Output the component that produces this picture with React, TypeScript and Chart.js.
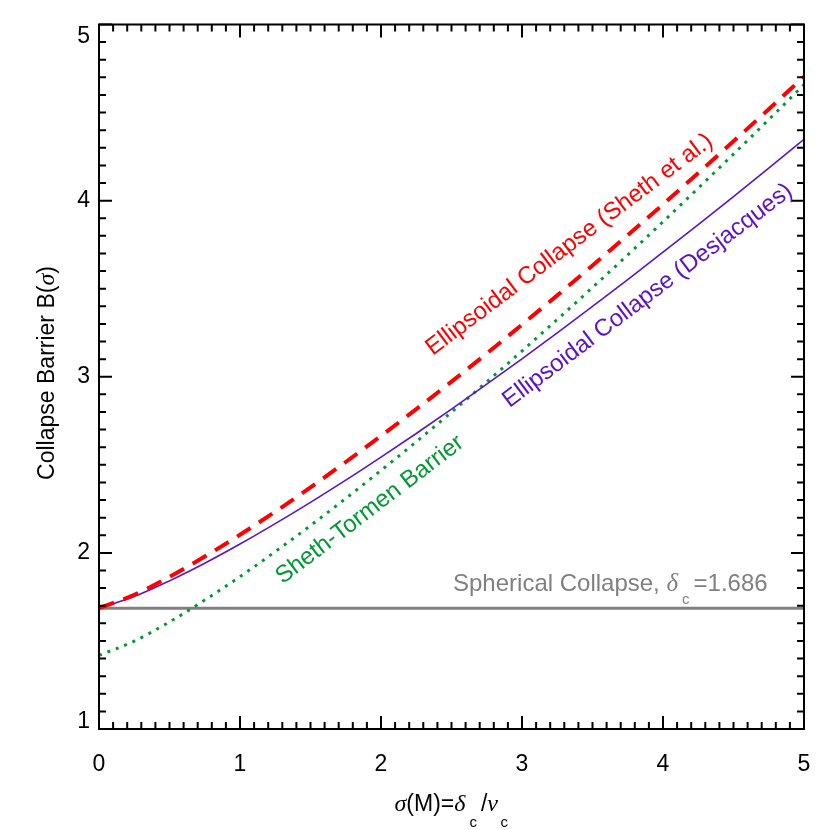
import React, { useEffect, useRef } from "react";
import { Chart, registerables } from "chart.js";
Chart.register(...registerables);

// sigma(M) sample points
const sigma = [0, 0.25, 0.5, 0.75, 1, 1.25, 1.5, 1.75, 2, 2.25, 2.5, 2.75, 3, 3.25, 3.5, 3.75, 4, 4.25, 4.5, 4.75, 5];
// Ellipsoidal collapse (Sheth et al.)
const shethEllipsoidal = [1.686, 1.762, 1.864, 1.979, 2.103, 2.234, 2.372, 2.516, 2.664, 2.816, 2.972, 3.132, 3.296, 3.462, 3.632, 3.804, 3.979, 4.157, 4.337, 4.519, 4.704];
// Sheth-Tormen barrier
const shethTormen = [1.418, 1.499, 1.608, 1.732, 1.865, 2.007, 2.155, 2.309, 2.468, 2.631, 2.799, 2.971, 3.146, 3.325, 3.507, 3.692, 3.880, 4.071, 4.264, 4.460, 4.658];
// Ellipsoidal collapse (Desjacques)
const desjacques = [1.686, 1.752, 1.841, 1.941, 2.050, 2.166, 2.287, 2.413, 2.544, 2.678, 2.816, 2.958, 3.102, 3.249, 3.399, 3.552, 3.707, 3.864, 4.023, 4.185, 4.348];
// Spherical collapse
const deltaC = 1.686;
const sphericalSigma = [0, 5];

const xTickLabels = ["0", "1", "2", "3", "4", "5"];
const yTickLabels = ["1", "2", "3", "4", "5"];

const RED = "#ff0000";
const GREEN = "#009933";
const PURPLE = "#5a14c8";
const GRAY = "#808080";

const SANS = "'Liberation Sans', Arial, Helvetica, sans-serif";
const SERIF = "'Liberation Serif', 'Times New Roman', serif";

type Run = { t: string; font: string; dy?: number; pad?: number };

function runsWidth(ctx: CanvasRenderingContext2D, runs: Run[]) {
  let w = 0;
  for (const r of runs) {
    ctx.font = r.font;
    w += ctx.measureText(r.t).width + (r.pad || 0);
  }
  return w;
}

function drawRuns(ctx: CanvasRenderingContext2D, runs: Run[], x: number, y: number, align: "left" | "center") {
  const w = runsWidth(ctx, runs);
  let cx = align === "center" ? x - w / 2 : x;
  ctx.textAlign = "left";
  for (const r of runs) {
    ctx.font = r.font;
    cx += (r.pad || 0) / 2;
    ctx.fillText(r.t, cx, y + (r.dy || 0));
    cx += ctx.measureText(r.t).width + (r.pad || 0) / 2;
  }
}

const decor = {
  id: "decor",
  afterDraw(chart: any) {
    const ctx: CanvasRenderingContext2D = chart.ctx;
    const xs = chart.scales.x;
    const ys = chart.scales.y;
    const { left, right, top, bottom } = chart.chartArea;
    ctx.save();

    // frame
    ctx.strokeStyle = "#000";
    ctx.lineWidth = 2;
    ctx.strokeRect(left, top, right - left, bottom - top);

    // ticks (inward, mirrored on all sides)
    ctx.beginPath();
    for (let i = 0; i <= 50; i++) {
      const px = xs.getPixelForValue(i / 10);
      const len = i % 10 === 0 ? 13 : 7;
      ctx.moveTo(px, bottom);
      ctx.lineTo(px, bottom - len);
      ctx.moveTo(px, top);
      ctx.lineTo(px, top + len);
    }
    for (let i = 0; i <= 40; i++) {
      const py = ys.getPixelForValue(1 + i / 10);
      const len = i % 10 === 0 ? 13 : 7;
      ctx.moveTo(left, py);
      ctx.lineTo(left + len, py);
      ctx.moveTo(right, py);
      ctx.lineTo(right - len, py);
    }
    ctx.stroke();

    // tick labels
    ctx.fillStyle = "#000";
    ctx.font = `23px ${SANS}`;
    ctx.textAlign = "center";
    ctx.textBaseline = "middle";
    xTickLabels.forEach((t) => {
      ctx.fillText(t, xs.getPixelForValue(Number(t)), bottom + 36);
    });
    ctx.textAlign = "right";
    yTickLabels.forEach((t, i) => {
      let py = ys.getPixelForValue(Number(t));
      if (i === yTickLabels.length - 1) py += 12;
      if (i === 0) py -= 7;
      ctx.fillText(t, left - 9, py);
    });

    // axis titles
    ctx.textBaseline = "alphabetic";
    const midX = (left + right) / 2;
    drawRuns(
      ctx,
      [
        { t: "σ", font: `italic 24px ${SERIF}` },
        { t: "(M)=", font: `23px ${SANS}` },
        { t: "δ", font: `italic 24px ${SERIF}` },
        { t: "c", font: `15px ${SANS}`, dy: 16, pad: 8 },
        { t: "/", font: `23px ${SANS}` },
        { t: "ν", font: `italic 24px ${SERIF}` },
        { t: "c", font: `15px ${SANS}`, dy: 16, pad: 5 },
      ],
      midX + 1,
      811,
      "center"
    );
    ctx.save();
    ctx.translate(54, 373);
    ctx.rotate(-Math.PI / 2);
    drawRuns(
      ctx,
      [
        { t: "Collapse Barrier B(", font: `23px ${SANS}` },
        { t: "σ", font: `italic 24px ${SERIF}` },
        { t: ")", font: `23px ${SANS}` },
      ],
      0,
      0,
      "center"
    );
    ctx.restore();

    // curve labels
    const rot = (text: string, color: string, vx: number, vy: number, deg: number) => {
      ctx.save();
      ctx.translate(xs.getPixelForValue(vx), ys.getPixelForValue(vy));
      ctx.rotate((-deg * Math.PI) / 180);
      ctx.fillStyle = color;
      ctx.font = `24px ${SANS}`;
      ctx.textAlign = "center";
      ctx.textBaseline = "alphabetic";
      ctx.fillText(text, 0, 0);
      ctx.restore();
    };
    rot("Ellipsoidal Collapse (Sheth et al.)", RED, 3.365, 3.72, 37);
    rot("Ellipsoidal Collapse (Desjacques)", PURPLE, 3.92, 3.43, 37);
    rot("Sheth-Tormen Barrier", GREEN, 1.95, 2.215, 37.3);

    ctx.fillStyle = GRAY;
    drawRuns(
      ctx,
      [
        { t: "Spherical Collapse, ", font: `24px ${SANS}` },
        { t: "δ", font: `italic 25px ${SERIF}` },
        { t: "c", font: `15px ${SANS}`, dy: 13, pad: 8 },
        { t: "=1.686", font: `24px ${SANS}` },
      ],
      453,
      591,
      "left"
    );

    ctx.restore();
  },
};

export default function App() {
  const ref = useRef<HTMLCanvasElement>(null);
  useEffect(() => {
    document.body.style.margin = "0";
    const canvas = ref.current!;
    const pts = (ys: number[]) => sigma.map((s, i) => ({ x: s, y: ys[i] }));
    const chart = new Chart(canvas, {
      type: "line",
      data: {
        datasets: [
          {
            label: "Ellipsoidal Collapse (Sheth et al.)",
            data: pts(shethEllipsoidal),
            borderColor: RED,
            borderWidth: 4,
            borderDash: [16, 10],
            pointRadius: 0,
            cubicInterpolationMode: "monotone",
          },
          {
            label: "Ellipsoidal Collapse (Desjacques)",
            data: pts(desjacques),
            borderColor: PURPLE,
            borderWidth: 1.6,
            pointRadius: 0,
            cubicInterpolationMode: "monotone",
          },
          {
            label: "Sheth-Tormen Barrier",
            data: pts(shethTormen),
            borderColor: GREEN,
            borderWidth: 3,
            borderDash: [3, 6],
            pointRadius: 0,
            cubicInterpolationMode: "monotone",
          },
          {
            label: "Spherical Collapse",
            data: sphericalSigma.map((s) => ({ x: s, y: deltaC })),
            borderColor: GRAY,
            borderWidth: 3,
            pointRadius: 0,
          },
        ],
      },
      options: {
        animation: false,
        responsive: false,
        devicePixelRatio: 1,
        layout: { padding: { left: 99, right: 26, top: 24.5, bottom: 101 } },
        scales: {
          x: { type: "linear", min: 0, max: 5, display: false },
          y: { type: "linear", min: 1, max: 5, display: false },
        },
        plugins: { legend: { display: false }, tooltip: { enabled: false } },
      },
      plugins: [decor],
    } as any);
    return () => chart.destroy();
  }, []);
  return (
    <div style={{ position: "absolute", left: 0, top: 0, width: 830, height: 830, background: "#fff" }}>
      <canvas ref={ref} width={830} height={830} style={{ width: 830, height: 830 }} />
    </div>
  );
}
